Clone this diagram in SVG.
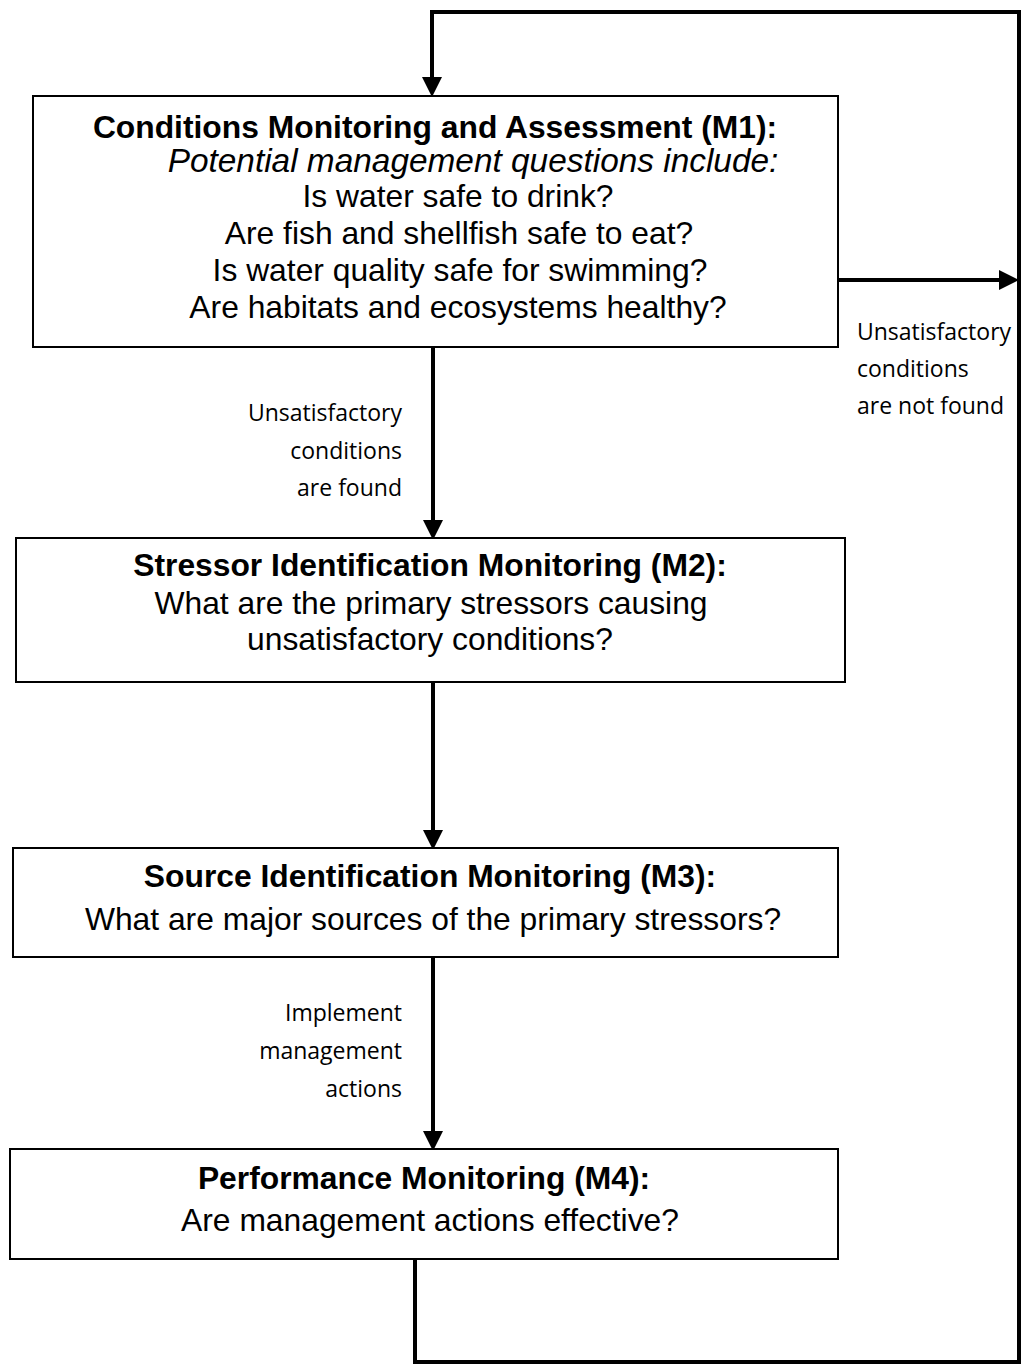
<svg xmlns="http://www.w3.org/2000/svg" width="1021" height="1364" viewBox="0 0 1021 1364">
<style>
.box{fill:#fff;stroke:#000;stroke-width:2}
.t{font-family:"Liberation Sans",Arial,sans-serif;font-size:31.8px;text-anchor:middle;fill:#000}
.b{font-weight:bold}
.i{font-style:italic;font-size:33.4px}
.l{font-family:"Open Sans","Liberation Sans",sans-serif;font-size:23px;fill:#000}
.r{text-anchor:end}
.c{fill:none;stroke:#000;stroke-width:4}
</style>
<defs>
<marker id="ah" markerWidth="5" markerHeight="5" refX="4" refY="2.5" orient="auto" markerUnits="strokeWidth">
<path d="M0,0 L5,2.5 L0,5 z" fill="#000"/>
</marker>
</defs>
<g id="connectors">
<polyline class="c" points="415,1259 415,1362 1019,1362 1019,12 432,12"/>
<line class="c" x1="432" y1="10" x2="432" y2="93" marker-end="url(#ah)"/>
<line class="c" x1="838" y1="280" x2="1015" y2="280" marker-end="url(#ah)"/>
<line class="c" x1="433" y1="347" x2="433" y2="536" marker-end="url(#ah)"/>
<line class="c" x1="433" y1="682" x2="433" y2="846" marker-end="url(#ah)"/>
<line class="c" x1="433" y1="957" x2="433" y2="1147" marker-end="url(#ah)"/>
<text class="l r" x="402" y="421">Unsatisfactory</text>
<text class="l r" x="402" y="459">conditions</text>
<text class="l r" x="402" y="496">are found</text>
<text class="l" x="857" y="340">Unsatisfactory</text>
<text class="l" x="857" y="377">conditions</text>
<text class="l" x="857" y="414">are not found</text>
<text class="l r" x="402" y="1021">Implement</text>
<text class="l r" x="402" y="1059">management</text>
<text class="l r" x="402" y="1097">actions</text>
</g>
<g id="m1">
<rect class="box" x="33" y="96" width="805" height="251"/>
<text class="t b" x="435" y="138">Conditions Monitoring and Assessment (M1):</text>
<text class="t i" x="473" y="172">Potential management questions include:</text>
<text class="t" x="458" y="207">Is water safe to drink?</text>
<text class="t" x="459" y="244">Are fish and shellfish safe to eat?</text>
<text class="t" x="460" y="281">Is water quality safe for swimming?</text>
<text class="t" x="458" y="318">Are habitats and ecosystems healthy?</text>
</g>
<g id="m2">
<rect class="box" x="16" y="538" width="829" height="144"/>
<text class="t b" x="430" y="576">Stressor Identification Monitoring (M2):</text>
<text class="t" x="431" y="614">What are the primary stressors causing</text>
<text class="t" x="430" y="650">unsatisfactory conditions?</text>
</g>
<g id="m3">
<rect class="box" x="13" y="848" width="825" height="109"/>
<text class="t b" x="430" y="887">Source Identification Monitoring (M3):</text>
<text class="t" x="433" y="930">What are major sources of the primary stressors?</text>
</g>
<g id="m4">
<rect class="box" x="10" y="1149" width="828" height="110"/>
<text class="t b" x="424" y="1189">Performance Monitoring (M4):</text>
<text class="t" x="430" y="1231">Are management actions effective?</text>
</g>
</svg>
